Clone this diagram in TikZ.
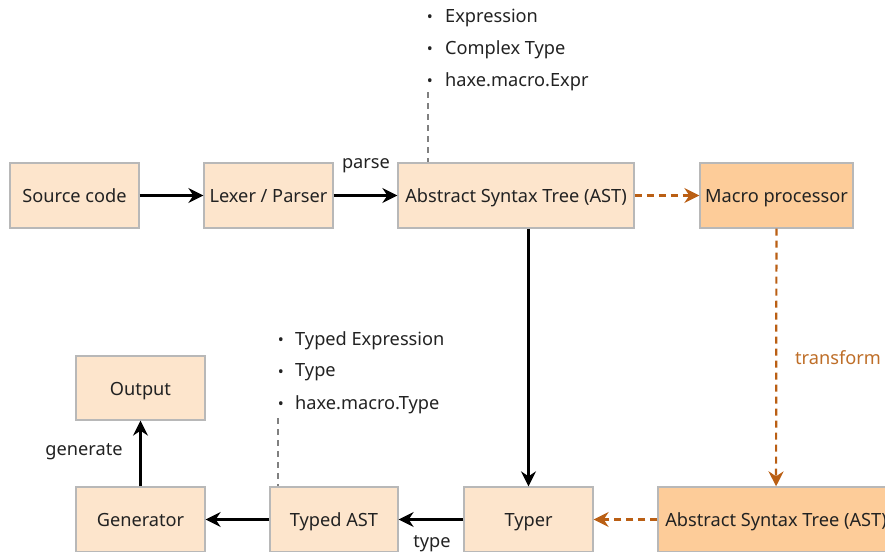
\documentclass[tikz,border=0pt]{standalone}
\usepackage{fontspec}
\setmainfont{Noto Sans}
\usetikzlibrary{arrows.meta}
\definecolor{boxfill}{HTML}{FDE5CC}
\definecolor{boxfilldark}{HTML}{FDCC99}
\definecolor{boxline}{HTML}{B8B8B8}
\definecolor{orangeln}{HTML}{BA5F14}
\definecolor{orangetxt}{HTML}{BE6E28}
\definecolor{txt}{HTML}{222222}
\begin{document}
\begin{tikzpicture}[x=1pt,y=-1pt,
  every node/.style={font=\fontsize{18.2}{21}\selectfont, text=txt},
  box/.style={draw=boxline, line width=1.3pt, fill=boxfill, minimum height=65pt, inner sep=0pt, text height=14.5pt, text depth=0pt},
  darkbox/.style={box, fill=boxfilldark},
  flow/.style={line width=2.2pt, black, -{Stealth[length=15pt, width=15pt, inset=5pt]}},
  oflow/.style={line width=2.2pt, orangeln, dash pattern=on 7pt off 5pt, -{Stealth[length=15pt, width=15pt, inset=5pt]}},
  note/.style={line width=1.1pt, gray, dash pattern=on 6pt off 5pt},
  lbl/.style={inner sep=0pt},
  bul/.style={inner sep=0pt, anchor=center, font=\fontsize{16}{18}\selectfont},
  item/.style={inner sep=0pt, anchor=west}]
\useasboundingbox (0,0) rectangle (885,551);
\clip (0,0) rectangle (885,551);

\node[box, minimum width=129pt] (src) at (74.5,195.5) {Source code};
\node[box, minimum width=129pt] (lex) at (268.5,195.5) {Lexer / Parser};
\node[box, minimum width=236pt] (ast) at (516,195.5) {Abstract Syntax Tree (AST)};
\node[darkbox, minimum width=153pt] (mac) at (776.5,195.5) {Macro processor};
\node[box, minimum width=129pt, minimum height=64pt] (out) at (140.5,388) {Output};
\node[box, minimum width=129pt] (gen) at (140.5,519.5) {Generator};
\node[box, minimum width=128pt] (tast) at (334,519.5) {Typed AST};
\node[box, minimum width=129pt] (typer) at (528.5,519.5) {Typer};
\node[darkbox, minimum width=236pt] (ast2) at (776,519.5) {Abstract Syntax Tree (AST)};

% bullet lists
\node[bul] (b1) at (430,19) {•};
\node[item] (i1) at (445,17.5) {Expression};
\node[bul] (b2) at (430,51) {•};
\node[item] (i2) at (445,49.5) {Complex Type};
\node[bul] (b3) at (430,83) {•};
\node[item] (i3) at (445,81.5) {haxe.macro.Expr};

\node[bul] (c1) at (281,342) {•};
\node[item] (j1) at (295,340.5) {Typed Expression};
\node[bul] (c2) at (281,374) {•};
\node[item] (j2) at (295,372.5) {Type};
\node[bul] (c3) at (281,406) {•};
\node[item] (j3) at (295,404.5) {haxe.macro.Type};

\coordinate (d1) at (428,92);
\coordinate (d2) at (278,418);
\draw[note] (d1) -- (d1 |- ast.north);
\draw[note] (d2) -- (d2 |- tast.north);

% connectors
\draw[flow] (src) -- (lex);
\draw[flow] (lex) -- (ast);
\draw[oflow] (ast) -- (mac);
\draw[oflow] (mac) -- (ast2);
\draw[flow] (ast.south -| typer.north) -- (typer.north);
\draw[oflow] (ast2) -- (typer);
\draw[flow] (typer) -- (tast);
\draw[flow] (tast) -- (gen);
\draw[flow] (gen) -- (out);

% labels
\node[lbl] (lparse) at (366,166) {parse};
\node[lbl] (ltype) at (432,543.5) {type};
\node[lbl] (lgen) at (84,452) {generate};
\node[lbl, text=orangetxt] (ltrans) at (838,358) {transform};
\end{tikzpicture}
\end{document}
